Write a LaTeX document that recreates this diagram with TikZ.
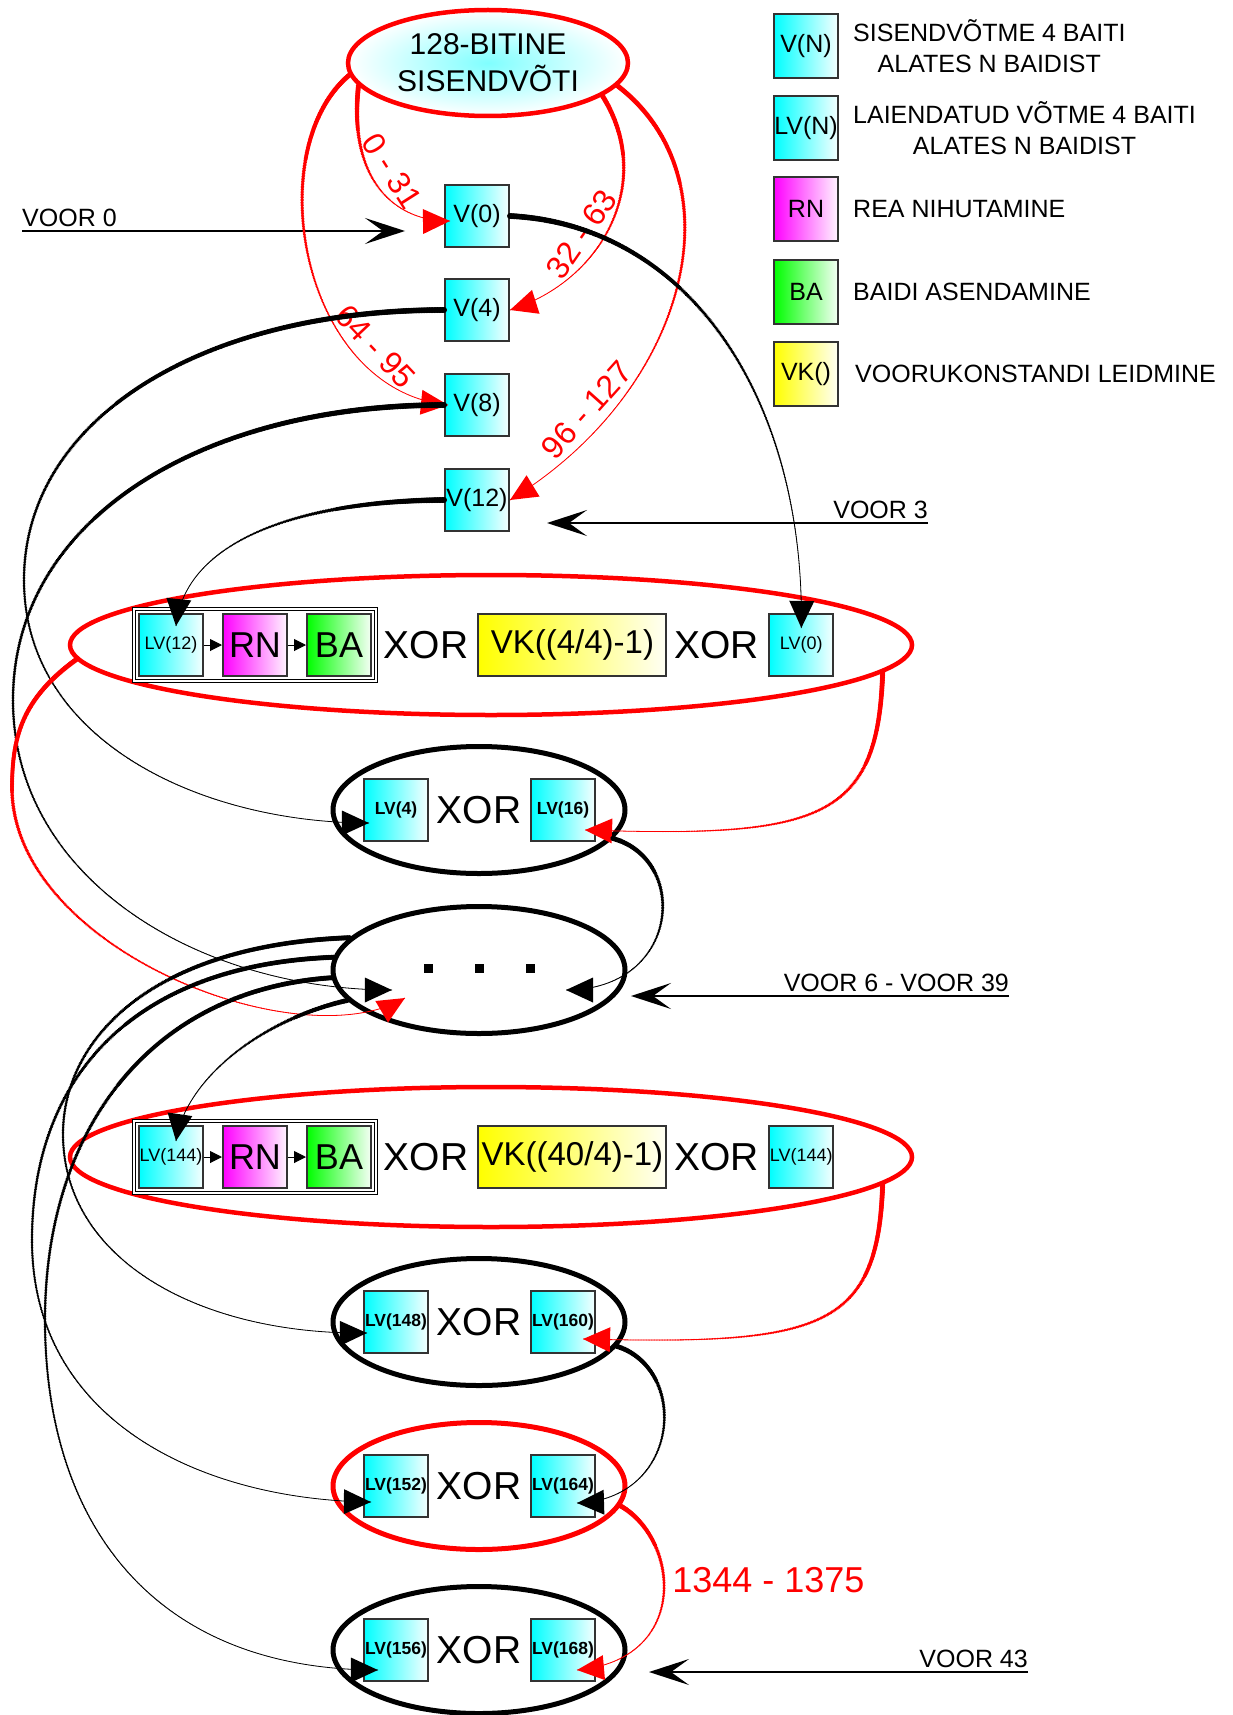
\documentclass[tikz,border=0pt]{standalone}
\usepackage{fontspec}
\setmainfont{Liberation Sans}
\usetikzlibrary{arrows.meta,chains,positioning,scopes,shapes.geometric,fit,decorations.markings}
\tikzset{every join/.style={-{Triangle[length=12pt,width=12pt]}, line width=1pt},
         boxbase/.style={draw=black!80, line width=2pt, inner sep=0pt, minimum width=64pt, minimum height=62pt},
         vbox/.style={boxbase, left color=cyan, right color=cyan!4, font=\fontsize{25}{28}\selectfont},
         lvbox/.style={vbox, font=\fontsize{18}{22}\selectfont},
         lvbold/.style={vbox, font=\fontsize{17.5}{22}\selectfont\bfseries},
         rnbox/.style={boxbase, left color=magenta, right color=magenta!4, font=\fontsize{36}{40}\selectfont},
         babox/.style={boxbase, left color=green, right color=green!4, font=\fontsize{36}{40}\selectfont},
         vkbox/.style={boxbase, left color=yellow, right color=yellow!4, minimum width=188pt, font=\fontsize{33}{40}\selectfont},
         legsize/.style={minimum width=64pt, minimum height=64pt, font=\fontsize{25}{28}\selectfont},
         legtext/.style={align=center, inner sep=0pt, font=\fontsize{25}{31}\selectfont},
         xortext/.style={inner sep=0pt, font=\fontsize{39}{44}\selectfont},
         keynode/.style={ellipse, draw=red, line width=4.5pt, inner color=cyan!50, outer color=white,
                         minimum width=280pt, minimum height=106pt, inner sep=0pt, align=center,
                         font=\fontsize{30}{37}\selectfont},
         bigring/.style={ellipse, draw=red, line width=4.5pt, minimum width=842pt, minimum height=140pt, inner sep=0pt},
         ring/.style={ellipse, draw=black, line width=5pt, minimum width=292pt, minimum height=127pt, inner sep=0pt},
         framebox/.style={draw, line width=1pt, double, double distance=2.5pt, inner sep=4pt},
         dot/.style={fill, minimum size=9pt, inner sep=0pt},
         tapered/.style={postaction={decorate, decoration={markings,
            mark=between positions 0 and 0.97 step 1.6pt with {%
              \pgfmathsetmacro\tapr{#1*(1-\pgfkeysvalueof{/pgf/decoration/mark info/distance from start}/\pgfdecoratedpathlength)}%
              \fill (0,0) circle[radius=\tapr pt];}}},
            postaction={decorate, decoration={markings,
            mark=at position 0.9999 with {\fill (0pt,0pt) -- (-27pt,12.5pt) -- (-27pt,-12.5pt) -- cycle;}}}},
         conn/.style={line width=0.8pt, tapered=#1},
         conn/.default=2.6,
         rconn/.style={conn=#1, red},
         rconn/.default=2.6,
         keylabel/.style={red, sloped, inner xsep=2pt, inner ysep=9pt, font=\fontsize{32}{36}\selectfont},
         voorarrow/.style={line width=2pt, -{Stealth[length=40pt,width=26pt,inset=18pt]}},
         voortext/.style={inner xsep=0pt, inner ysep=4pt, font=\fontsize{25}{28}\selectfont}}
\begin{document}
\begin{tikzpicture}[x=1pt, y=-1pt]
	\useasboundingbox (0,0) rectangle (1232,1715);

	% rings
	\node[bigring] (r1) at (491,645) {};
	\node[bigring] (r2) at (491,1157) {};
	\node[ring] (x1) at (479,810) {};
	\node[ring] (xd) at (479,970) {};
	\node[ring] (x2) at (479,1322) {};
	\node[ring, draw=red] (x3) at (479,1486) {};
	\node[ring] (x4) at (479,1650) {};

	% input key
	\node[keynode] (key) at (488,63) {128-BITINE\\SISENDVÕTI};
	\foreach \n/\y in {0/216, 4/310, 8/405, 12/500}
		\node[vbox] (v\n) at (477,\y) {V(\n)};

	% legend
	\node[vbox, legsize] (lgv) at (806,46) {V(N)};
	\node[vbox, legsize] (lglv) at (806,128) {LV(N)};
	\node[rnbox, legsize] (lgrn) at (806,209) {RN};
	\node[babox, legsize] (lgba) at (806,292) {BA};
	\node[vkbox, legsize] (lgvk) at (806,374) {VK()};
	\node[legtext, right=14pt of lgv] (tv) {SISENDVÕTME 4 BAITI\\ALATES N BAIDIST};
	\node[legtext, right=14pt of lglv] (tlv) {LAIENDATUD VÕTME 4 BAITI\\ALATES N BAIDIST};
	\node[legtext, right=14pt of lgrn] (trn) {REA NIHUTAMINE};
	\node[legtext, right=14pt of lgba] (tba) {BAIDI ASENDAMINE};
	\node[legtext, right=16pt of lgvk] (tvk) {VOORUKONSTANDI LEIDMINE};

	% round 4
	{ [start chain=going right, node distance=18pt]
		\node[lvbox, on chain] (lv12) at (171,645) {LV(12)};
		\node[rnbox, on chain, join] (rn1) {RN};
		\node[babox, on chain, join] (ba1) {BA};
	}
	\node[framebox, fit=(lv12)(ba1)] (fr1) {};
	\node[xortext, right=7pt of fr1] (xo1) {XOR};
	\node[vkbox, right=9pt of xo1] (vk1) {VK((4/4)-1)};
	\node[xortext, right=7pt of vk1] (xo2) {XOR};
	\node[lvbox, right=9pt of xo2] (lv0) {LV(0)};

	% round 40
	{ [start chain=going right, node distance=18pt]
		\node[lvbox, on chain] (lv144) at (171,1157) {LV(144)};
		\node[rnbox, on chain, join] (rn2) {RN};
		\node[babox, on chain, join] (ba2) {BA};
	}
	\node[framebox, fit=(lv144)(ba2)] (fr2) {};
	\node[xortext, right=7pt of fr2] (xo3) {XOR};
	\node[vkbox, right=9pt of xo3] (vk2) {VK((40/4)-1)};
	\node[xortext, right=7pt of vk2] (xo4) {XOR};
	\node[lvbox, right=9pt of xo4] (lv144b) {LV(144)};

	% xor rings
	\foreach \a/\b/\r in {4/16/x1, 148/160/x2, 152/164/x3, 156/168/x4} {
		\node[lvbold] (lv\a) at ([xshift=-83pt]\r.center) {LV(\a)};
		\node[xortext] (xor\a) at (\r.center) {XOR};
		\node[lvbold] (lv\b) at ([xshift=84pt]\r.center) {LV(\b)};
	}
	\foreach \i/\x in {1/428, 2/479, 3/530}
		\node[dot] (dt\i) at (\x,968) {};
	\coordinate (inL) at (392,990);
	\coordinate (inR) at (566,990);
	\coordinate (inRed) at (405,998);

	% round labels
	\coordinate (voor0tip) at (405,231);
	\node[voortext, anchor=south west] (voor0) at (22,231) {VOOR 0};
	\draw[voorarrow] (voor0.south west) -- (voor0tip);
	\coordinate (voor3tip) at (547,523);
	\node[voortext, anchor=south east] (voor3) at (928,523) {VOOR 3};
	\draw[voorarrow] (voor3.south east) -- (voor3tip);
	\coordinate (voor6tip) at (631,996);
	\node[voortext, anchor=south east] (voor6) at (1009,996) {VOOR 6 - VOOR 39};
	\draw[voorarrow] (voor6.south east) -- (voor6tip);
	\coordinate (voor43tip) at (649,1672);
	\node[voortext, anchor=south east] (voor43) at (1028,1672) {VOOR 43};
	\draw[voorarrow] (voor43.south east) -- (voor43tip);

	% key bytes
	\draw[rconn] (key.190) .. controls (348,180) and (395,222) .. ([xshift=6pt,yshift=-5pt]v0.west)
		node[keylabel, above, pos=0.45] {0 - 31};
	\draw[rconn] (key.-16) .. controls (655,180) and (605,280) .. (v4.east)
		node[keylabel, above, pos=0.6] {32 - 63};
	\draw[rconn] (key.185) .. controls (260,150) and (300,390) .. ([xshift=4pt]v8.west)
		node[keylabel, above, pos=0.76] {64 - 95};
	\draw[rconn] (key.-10) .. controls (740,180) and (690,390) .. (v12.east)
		node[keylabel, above, pos=0.8] {96 - 127};

	% words to round 4
	\draw[conn=3] (v0.east) .. controls (690,225) and (805,400) .. ([yshift=-15pt]lv0.north);
	\draw[conn=3] (v4.west) .. controls (200,310) and (24,420) .. (24,580)
		.. controls (24,740) and (200,823) .. ([xshift=6pt,yshift=-13pt]lv4.west);
	\draw[conn=3] (v8.west) .. controls (200,405) and (13,520) .. (13,700)
		.. controls (13,880) and (200,990) .. (inL);
	\draw[conn=3] (v12.west) .. controls (300,501) and (185,540) .. ([xshift=5pt,yshift=-13pt]lv12.north);
	\draw[rconn] (r1.182) .. controls (20,700) and (12,740) .. (12,790)
		.. controls (15,950) and (300,1060) .. (inRed);
	\draw[rconn] (r1.-4) .. controls (878,820) and (820,838) .. ([xshift=-11pt,yshift=-20pt]lv16.east);
	\draw[conn] (x1.-12) .. controls (690,860) and (680,990) .. (inR);

	% words to round 40
	\draw[conn] (xd.166) .. controls (150,945) and (63,1040) .. (63,1134)
		.. controls (63,1260) and (200,1335) .. ([xshift=4pt,yshift=-11pt]lv148.west);
	\draw[conn] (xd.175) .. controls (130,965) and (32,1080) .. (32,1240)
		.. controls (32,1420) and (200,1500) .. ([xshift=8pt,yshift=-16pt]lv152.west);
	\draw[conn] (xd.183) .. controls (150,990) and (45,1130) .. (45,1320)
		.. controls (45,1520) and (150,1670) .. ([xshift=15pt,yshift=-20pt]lv156.west);
	\draw[conn] (xd.193) .. controls (260,1020) and (185,1080) .. ([xshift=5pt,yshift=-16pt]lv144.north);
	\draw[rconn] (r2.-4) .. controls (878,1330) and (820,1345) .. ([xshift=-13pt,yshift=-17pt]lv160.east);
	\draw[conn] (x2.-10) .. controls (690,1370) and (680,1500) .. ([xshift=-19pt,yshift=-17pt]lv164.east);
	\draw[rconn] (x3.-8) .. controls (680,1540) and (690,1660) .. ([xshift=-19pt,yshift=-20pt]lv168.east)
		node[pos=0.42, right, red, inner sep=8pt, font=\fontsize{36}{40}\selectfont] {1344 - 1375};
\end{tikzpicture}
\end{document}
